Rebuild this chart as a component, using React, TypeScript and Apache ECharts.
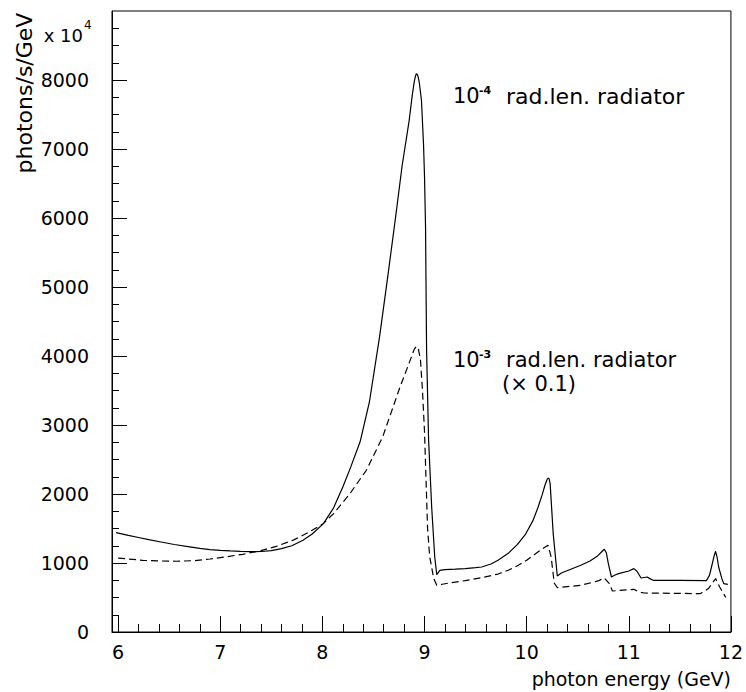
import React, { useEffect, useRef } from "react";
import * as echarts from "echarts";

// Solid curve: 10^-4 rad.len. radiator
const solidE = [5.98, 6.1, 6.2, 6.3, 6.42, 6.55, 6.7, 6.8, 6.9, 7.0, 7.1, 7.2, 7.3, 7.4, 7.5, 7.6, 7.7, 7.81, 7.9, 8.01, 8.11, 8.2, 8.28, 8.37, 8.46, 8.56, 8.64, 8.72, 8.78, 8.85, 8.88, 8.9, 8.91, 8.92, 8.93, 8.94, 8.95, 8.97, 8.99, 9.0, 9.01, 9.02, 9.04, 9.07, 9.1, 9.12, 9.15, 9.2, 9.3, 9.4, 9.5, 9.56, 9.65, 9.72, 9.82, 9.91, 9.99, 10.06, 10.11, 10.15, 10.18, 10.2, 10.21, 10.22, 10.23, 10.26, 10.3, 10.34, 10.45, 10.53, 10.62, 10.69, 10.74, 10.76, 10.78, 10.8, 10.83, 10.87, 10.9, 11.0, 11.05, 11.08, 11.12, 11.15, 11.18, 11.21, 11.24, 11.5, 11.76, 11.79, 11.81, 11.835, 11.85, 11.865, 11.88, 11.91, 11.93, 11.97];
const solidV = [1440, 1400, 1370, 1338, 1304, 1268, 1235, 1213, 1194, 1183, 1175, 1169, 1165, 1167, 1180, 1208, 1250, 1329, 1420, 1571, 1800, 2101, 2400, 2760, 3330, 4280, 5150, 6050, 6750, 7416, 7780, 7980, 8050, 8090, 8080, 8030, 7950, 7706, 7078, 6600, 5870, 4100, 2778, 1812, 1087, 832, 894, 905, 910, 918, 932, 942, 985, 1040, 1140, 1270, 1420, 1610, 1800, 1980, 2130, 2210, 2232, 2220, 2150, 1426, 812, 855, 920, 967, 1030, 1097, 1170, 1199, 1150, 991, 797, 830, 846, 884, 919, 880, 783, 790, 797, 770, 749, 748, 745, 820, 942, 1100, 1170, 1080, 942, 780, 701, 691];

// Dashed curve: 10^-3 rad.len. radiator (x 0.1)
const dashE = [6.0, 6.24, 6.4, 6.57, 6.75, 6.9, 7.05, 7.22, 7.4, 7.55, 7.72, 7.87, 8.0, 8.11, 8.27, 8.43, 8.59, 8.76, 8.85, 8.9, 8.92, 8.94, 8.96, 8.98, 9.0, 9.03, 9.05, 9.09, 9.12, 9.24, 9.4, 9.56, 9.72, 9.82, 9.91, 10.0, 10.11, 10.17, 10.21, 10.24, 10.27, 10.3, 10.53, 10.7, 10.76, 10.81, 10.84, 11.05, 11.1, 11.15, 11.7, 11.78, 11.85, 11.89, 11.95];
const dashV = [1072, 1039, 1030, 1025, 1035, 1058, 1088, 1126, 1180, 1242, 1335, 1449, 1560, 1716, 2006, 2343, 2826, 3551, 3900, 4100, 4140, 4100, 3950, 3500, 2900, 1500, 1100, 774, 677, 710, 745, 788, 840, 895, 960, 1040, 1159, 1220, 1256, 1087, 710, 643, 677, 740, 783, 701, 594, 619, 580, 565, 556, 629, 774, 652, 499];

const xMajorTicks = [6, 7, 8, 9, 10, 11, 12];
const yMajorTicks = [0, 1000, 2000, 3000, 4000, 5000, 6000, 7000, 8000];

const xMinorTicks: number[] = [];
for (let i = 0; i <= 30; i++) {
  const v = Math.round((6 + i * 0.2) * 10) / 10;
  if (Math.abs(v - Math.round(v)) > 1e-6) xMinorTicks.push(v);
}
const yMinorTicks: number[] = [];
for (let v = 250; v < 9000; v += 250) {
  if (v % 1000 !== 0) yMinorTicks.push(v);
}

const FONT = "DejaVu Sans";

export default function App() {
  const ref = useRef<HTMLDivElement>(null);
  useEffect(() => {
    if (!ref.current) return;
    const chart = echarts.init(ref.current, null, { renderer: "svg" });
    const axisCommon = {
      type: "value" as const,
      splitLine: { show: false },
    };
    chart.setOption({
      animation: false,
      backgroundColor: "#fff",
      grid: {
        left: 112,
        right: 12,
        top: 11,
        bottom: 60,
        show: true,
        borderColor: "#000",
        borderWidth: 1,
      },
      xAxis: [
        {
          ...axisCommon,
          min: 5.94,
          max: 12,
          axisLine: { show: true, lineStyle: { color: "#000", width: 1 } },
          axisTick: { show: true, inside: true, length: 16, customValues: xMajorTicks, lineStyle: { color: "#000" } },
          axisLabel: {
            customValues: xMajorTicks,
            fontSize: 19,
            fontFamily: FONT,
            color: "#000",
            margin: 10,
            formatter: (v: number) => String(v),
          },
        },
        {
          ...axisCommon,
          min: 5.94,
          max: 12,
          position: "bottom",
          axisLine: { show: false },
          axisTick: { show: true, inside: true, length: 8, customValues: xMinorTicks, lineStyle: { color: "#000" } },
          axisLabel: { show: false },
        },
      ],
      yAxis: [
        {
          ...axisCommon,
          min: 0,
          max: 9000,
          axisLine: { show: true, lineStyle: { color: "#000", width: 1 } },
          axisTick: { show: true, inside: true, length: 15, customValues: yMajorTicks, lineStyle: { color: "#000" } },
          axisLabel: {
            customValues: yMajorTicks,
            fontSize: 19,
            fontFamily: FONT,
            color: "#000",
            margin: 23,
            formatter: (v: number) => String(v),
          },
        },
        {
          ...axisCommon,
          min: 0,
          max: 9000,
          position: "left",
          axisLine: { show: false },
          axisTick: { show: true, inside: true, length: 7, customValues: yMinorTicks, lineStyle: { color: "#000" } },
          axisLabel: { show: false },
        },
      ],
      series: [
        {
          type: "line",
          xAxisIndex: 0,
          yAxisIndex: 0,
          data: solidE.map((e, i) => [e, solidV[i]]),
          showSymbol: false,
          lineStyle: { color: "#000", width: 1.2 },
        },
        {
          type: "line",
          xAxisIndex: 0,
          yAxisIndex: 0,
          data: dashE.map((e, i) => [e, dashV[i]]),
          showSymbol: false,
          lineStyle: { color: "#000", width: 1.2, type: [7, 4] },
        },
      ],
      graphic: [
        {
          type: "text",
          x: 24,
          y: 93,
          rotation: Math.PI / 2,
          style: { text: "photons/s/GeV", fontSize: 22, fontFamily: FONT, fill: "#000", align: "center", verticalAlign: "middle" },
        },
        {
          type: "text",
          x: 83,
          y: 35,
          style: { text: "x 10", fontSize: 18, fontFamily: FONT, fill: "#000", align: "right", verticalAlign: "middle" },
        },
        {
          type: "text",
          x: 84,
          y: 25,
          style: { text: "4", fontSize: 12, fontFamily: FONT, fill: "#000", align: "left", verticalAlign: "middle" },
        },
        {
          type: "text",
          x: 731,
          y: 679,
          style: { text: "photon energy (GeV)", fontSize: 19, fontFamily: FONT, fill: "#000", align: "right", verticalAlign: "middle" },
        },
        {
          type: "text",
          x: 453,
          y: 96,
          style: { text: "10", fontSize: 21, fontFamily: FONT, fill: "#000", align: "left", verticalAlign: "middle" },
        },
        {
          type: "text",
          x: 479,
          y: 90,
          style: { text: "-4", fontSize: 11, fontWeight: "bold", fontFamily: FONT, fill: "#000", align: "left", verticalAlign: "middle" },
        },
        {
          type: "text",
          x: 506,
          y: 96,
          style: { text: "rad.len. radiator", fontSize: 22, fontFamily: FONT, fill: "#000", align: "left", verticalAlign: "middle" },
        },
        {
          type: "text",
          x: 453,
          y: 360,
          style: { text: "10", fontSize: 21, fontFamily: FONT, fill: "#000", align: "left", verticalAlign: "middle" },
        },
        {
          type: "text",
          x: 479,
          y: 354,
          style: { text: "-3", fontSize: 11, fontWeight: "bold", fontFamily: FONT, fill: "#000", align: "left", verticalAlign: "middle" },
        },
        {
          type: "text",
          x: 506,
          y: 360,
          style: { text: "rad.len. radiator", fontSize: 21, fontFamily: FONT, fill: "#000", align: "left", verticalAlign: "middle" },
        },
        {
          type: "text",
          x: 502,
          y: 384,
          style: { text: "(× 0.1)", fontSize: 21, fontFamily: FONT, fill: "#000", align: "left", verticalAlign: "middle" },
        },
      ],
    });
    return () => chart.dispose();
  }, []);
  return (
    <div
      ref={ref}
      style={{ position: "fixed", left: 0, top: 0, width: 746, height: 692, background: "#fff" }}
    />
  );
}
